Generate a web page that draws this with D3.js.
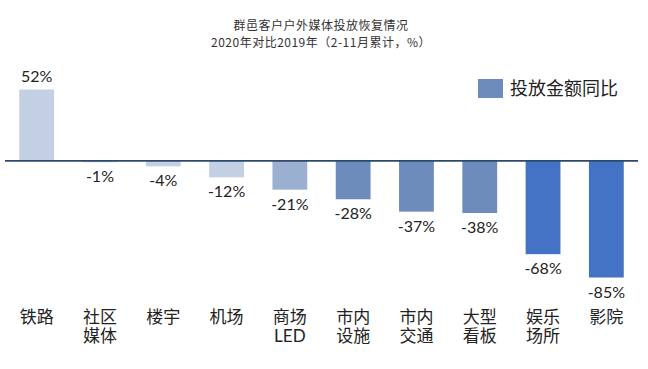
<!DOCTYPE html>
<html><head><meta charset="utf-8">
<script src="https://cdn.jsdelivr.net/npm/d3@7"></script>
<style>body{margin:0;background:#fff}svg{display:block}</style>
</head><body>
<svg id="c" width="648" height="369"></svg>
<script>
const titleLines = ["群邑客户户外媒体投放恢复情况", "2020年对比2019年（2-11月累计，%）"];
const categories = [["铁路"], ["社区", "媒体"], ["楼宇"], ["机场"], ["商场", "LED"], ["市内", "设施"], ["市内", "交通"], ["大型", "看板"], ["娱乐", "场所"], ["影院"]];
const values = [52, -1, -4, -12, -21, -28, -37, -38, -68, -85];
const barColors = ["#c3cfe2", "#c3cfe2", "#c3cfe2", "#c3cfe2", "#9bafd0", "#6e8cbb", "#6e8cbb", "#6e8cbb", "#4472c4", "#4472c4"];
const legendLabel = "投放金额同比";

const svg = d3.select("#c");
const font = "Lato, 'Noto Sans CJK SC', sans-serif";
const cjk = "'Noto Sans CJK SC', sans-serif";

const x = d3.scaleBand().domain(d3.range(values.length)).range([5, 638]).paddingInner(0.45).paddingOuter(0.225);
const y = d3.scaleLinear().domain([-85, 52]).range([277.5, 89.5]);

// title
svg.selectAll("text.title").data(titleLines).join("text")
  .attr("class", "title")
  .attr("x", 321).attr("y", (d, i) => 30 + i * 17)
  .attr("text-anchor", "middle").attr("font-family", cjk).attr("font-size", 12)
  .attr("letter-spacing", 0.5)
  .attr("fill", "#333").text(d => d);

// bars
svg.selectAll("rect.bar").data(values).join("rect")
  .attr("class", "bar")
  .attr("x", (d, i) => x(i)).attr("width", x.bandwidth())
  .attr("y", d => Math.min(y(d), y(0))).attr("height", d => Math.abs(y(d) - y(0)))
  .attr("fill", (d, i) => barColors[i]);

// zero axis
svg.append("line").attr("x1", 5).attr("x2", 638).attr("y1", y(0)).attr("y2", y(0))
  .attr("stroke", "#2e4a6b").attr("stroke-width", 1.6);

// value labels
svg.selectAll("text.val").data(values).join("text")
  .attr("class", "val")
  .attr("x", (d, i) => x(i) + x.bandwidth() / 2)
  .attr("y", d => d >= 0 ? y(d) - 8 : y(d) + 20)
  .attr("text-anchor", "middle").attr("font-family", font).attr("font-size", 16)
  .attr("fill", "#222").text(d => d + "%");

// category labels
const cg = svg.selectAll("g.cat").data(categories).join("g")
  .attr("class", "cat")
  .attr("transform", (d, i) => `translate(${x(i) + x.bandwidth() / 2},0)`);
cg.selectAll("text").data(d => d).join("text")
  .attr("x", 0).attr("y", (d, i) => 323 + i * 19)
  .attr("text-anchor", "middle").attr("font-family", font).attr("font-size", 17)
  .attr("fill", "#222").text(d => d);

// legend
svg.append("rect").attr("x", 478).attr("y", 79).attr("width", 25).attr("height", 19).attr("fill", "#6e8cbb");
svg.append("text").attr("x", 510).attr("y", 95).attr("font-family", cjk).attr("font-size", 18)
  .attr("fill", "#222").text(legendLabel);
</script>
</body></html>
